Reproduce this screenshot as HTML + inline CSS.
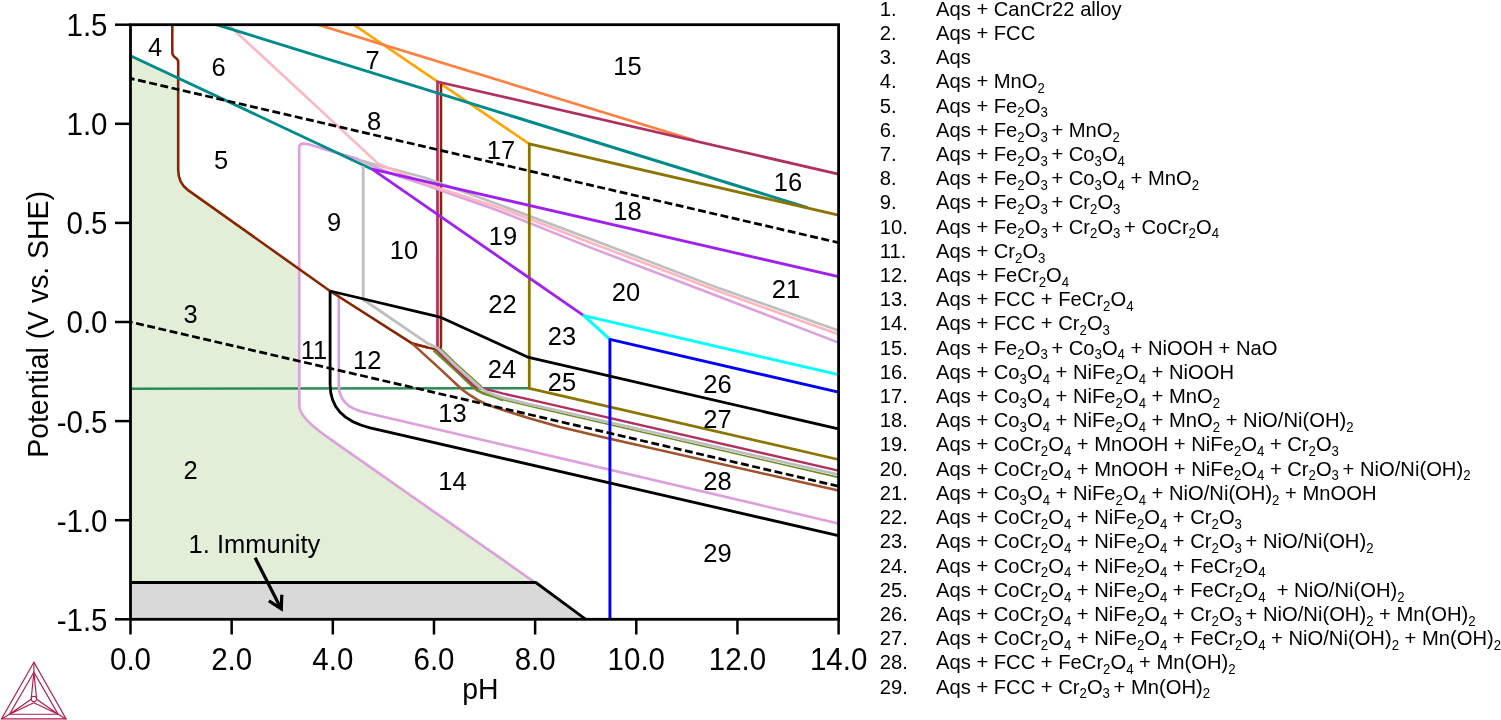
<!DOCTYPE html>
<html><head><meta charset="utf-8"><title>Pourbaix diagram</title>
<style>html,body{margin:0;padding:0;background:#fff;width:1501px;height:720px;overflow:hidden}svg{display:block}</style>
</head><body><svg width="1501" height="720" viewBox="0 0 1501 720" font-family='"Liberation Sans", sans-serif' fill="#000"><defs><clipPath id="cp"><rect x="130.5" y="24.7" width="708.1" height="594.5999999999999"/></clipPath></defs><path d="M131,56 L178.2,78 L178.2,170 Q178.2,183.1 188,190.1 L299.5,269.3 L299.3,405.9 Q299.3,417.45 329.2,438.4 L535.8,583 L131,583 Z" fill="#E2EED8"/><path d="M130.5,583 L535.8,583 L585.8,619.3 L130.5,619.3 Z" fill="#D9D9D9"/><g clip-path="url(#cp)"><path d="M131.00,388.70 L529.30,388.20" fill="none" stroke="#2E8B57" stroke-width="2.6" stroke-linejoin="round" /><path d="M353.75,24.70 L529.20,143.90" fill="none" stroke="#FFA500" stroke-width="2.6" stroke-linejoin="round" /><path d="M318.00,24.70 L695.00,140.50" fill="none" stroke="#FF7F3F" stroke-width="2.6" stroke-linejoin="round" /><path d="M838.4,174.1 L437.5,81.7 L437.5,347.2" fill="none" stroke="#B03060" stroke-width="2.7" stroke-linejoin="round" /><path d="M412,343.4 L428,347.6 L436.9,349.6 Q441,349.6 441,346 L441,83.9" fill="none" stroke="#8B2500" stroke-width="2.5" stroke-linejoin="round" /><path d="M838.4,342.6 L720,297.0 L590,247.4 L500,211.25 L425,184.7 L400,176.7 L375,167 L355,157.9 L325.3,149.4 L308.7,144.2 L303,143.6 Q299.2,143.6 299.2,148 L299.3,405.9 Q299.3,417.45 329.2,438.4 L535.8,583" fill="none" stroke="#DDA0DD" stroke-width="2.6" stroke-linejoin="round" /><path d="M338.8,293.6 L338.8,385.2 Q338.8,406.2 364.1,412.2 L838.4,523.4" fill="none" stroke="#DDA0DD" stroke-width="2.6" stroke-linejoin="round" /><path d="M172.3,24 L172.3,53 Q172.3,55 174,56.5 L176.5,58.5 Q178.2,60 178.2,62 L178.2,170 Q178.2,183.1 188,190.1 L330,291 L412,343.4 L428,347.6" fill="none" stroke="#8B2500" stroke-width="2.6" stroke-linejoin="round" /><path d="M362.50,160.80 L375.00,164.50 L400.00,171.10 L425.00,177.80 L500.00,205.00 L590.00,238.75 L720.00,288.60 L838.40,330.50" fill="none" stroke="#BEBEBE" stroke-width="2.6" stroke-linejoin="round" /><path d="M228.30,24.70 L378.30,163.90 L400.00,172.80 L425.00,183.10 L440.00,188.50 L500.00,207.90 L590.00,242.50 L720.00,291.70 L838.40,334.30" fill="none" stroke="#FFB6C1" stroke-width="2.6" stroke-linejoin="round" /><path d="M131.00,56.00 L372.10,169.20" fill="none" stroke="#008B8B" stroke-width="2.9" stroke-linejoin="round" /><path d="M214.50,24.00 L807.50,207.60" fill="none" stroke="#008B8B" stroke-width="2.9" stroke-linejoin="round" /><path d="M838.40,215.10 L529.30,143.90 L529.30,388.30 L838.40,459.50" fill="none" stroke="#8B7500" stroke-width="2.8" stroke-linejoin="round" /><path d="M412.00,343.40 L440.00,368.90 L462.00,389.50 L470.00,395.20 L478.00,400.20 L486.70,404.40 L497.80,408.30 L510.00,412.30 L530.00,418.60 L560.00,427.00 L600.00,436.50 L838.40,490.60" fill="none" stroke="#A0522D" stroke-width="2.6" stroke-linejoin="round" /><path d="M433.60,350.20 L455.00,369.80 L474.00,387.80 L478.00,390.80 L482.80,393.10 L495.00,397.00 L503.30,400.20" fill="none" stroke="#6B8E23" stroke-width="2.8" stroke-linejoin="round" /><path d="M495.00,396.80 L503.30,399.80 L530.00,406.20 L838.40,477.40" fill="none" stroke="#6B8E23" stroke-width="1.6" stroke-linejoin="round" /><path d="M441.30,349.10 L455.00,362.60 L482.00,386.80" fill="none" stroke="#6B8E23" stroke-width="1.4" stroke-linejoin="round" /><path d="M436.30,349.70 L455.00,367.60 L474.50,386.20 L478.00,387.60 L482.80,388.60 L495.00,391.40 L503.30,393.60 L530.00,399.60 L838.40,470.60" fill="none" stroke="#B03060" stroke-width="2.5" stroke-linejoin="round" /><path d="M363.20,166.00 L363.20,299.50 L428.00,343.60 L436.90,347.70 L438.60,349.10 L455.00,365.30 L471.70,380.30 L480.00,387.60 L486.70,391.90 L495.00,395.20 L503.30,397.90 L530.00,404.30 L540.00,406.50 L838.40,474.60" fill="none" stroke="#BEBEBE" stroke-width="2.8" stroke-linejoin="round" /><path d="M372.10,169.20 L838.40,276.60" fill="none" stroke="#A020F0" stroke-width="2.8" stroke-linejoin="round" /><path d="M372.10,169.20 L583.75,315.60" fill="none" stroke="#A020F0" stroke-width="2.8" stroke-linejoin="round" /><path d="M838.40,374.70 L583.75,315.60 L609.80,339.40" fill="none" stroke="#00FFFF" stroke-width="2.9" stroke-linejoin="round" /><path d="M838.40,392.20 L609.90,339.40 L609.90,619.30" fill="none" stroke="#0000FF" stroke-width="2.9" stroke-linejoin="round" /><path d="M330,291 L436,316.2 Q441,317.2 446,319.8 L528.6,357.4 L838.4,428.8" fill="none" stroke="#000000" stroke-width="2.8" stroke-linejoin="round" /><path d="M330.1,291 L330.1,384.6 Q330.1,418.6 370.1,427.8 L838.4,535.6" fill="none" stroke="#000000" stroke-width="2.8" stroke-linejoin="round" /><path d="M130.50,78.41 L838.60,242.68" fill="none" stroke="#000000" stroke-width="2.7" stroke-linejoin="round" stroke-dasharray="7.9 3.6" stroke-dashoffset="3.8"/><path d="M130.50,322.00 L838.60,486.27" fill="none" stroke="#000000" stroke-width="2.7" stroke-linejoin="round" stroke-dasharray="7.9 3.6" stroke-dashoffset="5.8"/><path d="M130.5,582.5 L535.8,582.5 L585.8,619.3" fill="none" stroke="#000000" stroke-width="2.8" stroke-linejoin="round" /></g><rect x="130.5" y="24.7" width="708.1" height="594.5999999999999" fill="none" stroke="#000" stroke-width="2.8"/><line x1="115" y1="24.70" x2="130.5" y2="24.70" stroke="#000" stroke-width="2.5"/><line x1="115" y1="123.80" x2="130.5" y2="123.80" stroke="#000" stroke-width="2.5"/><line x1="115" y1="222.90" x2="130.5" y2="222.90" stroke="#000" stroke-width="2.5"/><line x1="115" y1="322.00" x2="130.5" y2="322.00" stroke="#000" stroke-width="2.5"/><line x1="115" y1="421.10" x2="130.5" y2="421.10" stroke="#000" stroke-width="2.5"/><line x1="115" y1="520.20" x2="130.5" y2="520.20" stroke="#000" stroke-width="2.5"/><line x1="115" y1="619.30" x2="130.5" y2="619.30" stroke="#000" stroke-width="2.5"/><line x1="130.50" y1="619.3" x2="130.50" y2="634.5" stroke="#000" stroke-width="2.5"/><line x1="231.66" y1="619.3" x2="231.66" y2="634.5" stroke="#000" stroke-width="2.5"/><line x1="332.81" y1="619.3" x2="332.81" y2="634.5" stroke="#000" stroke-width="2.5"/><line x1="433.97" y1="619.3" x2="433.97" y2="634.5" stroke="#000" stroke-width="2.5"/><line x1="535.13" y1="619.3" x2="535.13" y2="634.5" stroke="#000" stroke-width="2.5"/><line x1="636.29" y1="619.3" x2="636.29" y2="634.5" stroke="#000" stroke-width="2.5"/><line x1="737.44" y1="619.3" x2="737.44" y2="634.5" stroke="#000" stroke-width="2.5"/><line x1="838.60" y1="619.3" x2="838.60" y2="634.5" stroke="#000" stroke-width="2.5"/><text transform="translate(107.50,36.10) scale(1,1.042)" font-size="29.5" text-anchor="end" >1.5</text><text transform="translate(107.50,135.20) scale(1,1.042)" font-size="29.5" text-anchor="end" >1.0</text><text transform="translate(107.50,234.30) scale(1,1.042)" font-size="29.5" text-anchor="end" >0.5</text><text transform="translate(107.50,333.40) scale(1,1.042)" font-size="29.5" text-anchor="end" >0.0</text><text transform="translate(107.50,432.50) scale(1,1.042)" font-size="29.5" text-anchor="end" >-0.5</text><text transform="translate(107.50,531.60) scale(1,1.042)" font-size="29.5" text-anchor="end" >-1.0</text><text transform="translate(107.50,630.70) scale(1,1.042)" font-size="29.5" text-anchor="end" >-1.5</text><text transform="translate(130.50,670.00) scale(1,1.042)" font-size="29.5" text-anchor="middle" >0.0</text><text transform="translate(231.66,670.00) scale(1,1.042)" font-size="29.5" text-anchor="middle" >2.0</text><text transform="translate(332.81,670.00) scale(1,1.042)" font-size="29.5" text-anchor="middle" >4.0</text><text transform="translate(433.97,670.00) scale(1,1.042)" font-size="29.5" text-anchor="middle" >6.0</text><text transform="translate(535.13,670.00) scale(1,1.042)" font-size="29.5" text-anchor="middle" >8.0</text><text transform="translate(636.29,670.00) scale(1,1.042)" font-size="29.5" text-anchor="middle" >10.0</text><text transform="translate(737.44,670.00) scale(1,1.042)" font-size="29.5" text-anchor="middle" >12.0</text><text transform="translate(838.60,670.00) scale(1,1.042)" font-size="29.5" text-anchor="middle" >14.0</text><text transform="translate(480.30,699.40) scale(1,1.042)" font-size="28.4" text-anchor="middle" >pH</text><text transform="translate(47.75,324.40) rotate(-90) scale(1,1.042)" font-size="28.4" text-anchor="middle" >Potential (V vs. SHE)</text><text transform="translate(155.00,56.00) scale(1,1.042)" font-size="25.5" text-anchor="middle" >4</text><text transform="translate(218.50,75.50) scale(1,1.042)" font-size="25.5" text-anchor="middle" >6</text><text transform="translate(221.00,169.00) scale(1,1.042)" font-size="25.5" text-anchor="middle" >5</text><text transform="translate(372.50,69.00) scale(1,1.042)" font-size="25.5" text-anchor="middle" >7</text><text transform="translate(374.00,130.00) scale(1,1.042)" font-size="25.5" text-anchor="middle" >8</text><text transform="translate(501.00,159.00) scale(1,1.042)" font-size="25.5" text-anchor="middle" >17</text><text transform="translate(627.50,75.00) scale(1,1.042)" font-size="25.5" text-anchor="middle" >15</text><text transform="translate(788.00,191.00) scale(1,1.042)" font-size="25.5" text-anchor="middle" >16</text><text transform="translate(627.50,219.50) scale(1,1.042)" font-size="25.5" text-anchor="middle" >18</text><text transform="translate(626.00,301.00) scale(1,1.042)" font-size="25.5" text-anchor="middle" >20</text><text transform="translate(786.00,298.00) scale(1,1.042)" font-size="25.5" text-anchor="middle" >21</text><text transform="translate(334.00,231.00) scale(1,1.042)" font-size="25.5" text-anchor="middle" >9</text><text transform="translate(190.50,322.50) scale(1,1.042)" font-size="25.5" text-anchor="middle" >3</text><text transform="translate(404.00,259.00) scale(1,1.042)" font-size="25.5" text-anchor="middle" >10</text><text transform="translate(503.00,245.00) scale(1,1.042)" font-size="25.5" text-anchor="middle" >19</text><text transform="translate(502.50,312.50) scale(1,1.042)" font-size="25.5" text-anchor="middle" >22</text><text transform="translate(562.00,345.00) scale(1,1.042)" font-size="25.5" text-anchor="middle" >23</text><text transform="translate(314.00,358.50) scale(1,1.042)" font-size="25.5" text-anchor="middle" >11</text><text transform="translate(367.30,369.00) scale(1,1.042)" font-size="25.5" text-anchor="middle" >12</text><text transform="translate(452.50,422.00) scale(1,1.042)" font-size="25.5" text-anchor="middle" >13</text><text transform="translate(452.50,489.50) scale(1,1.042)" font-size="25.5" text-anchor="middle" >14</text><text transform="translate(502.00,378.00) scale(1,1.042)" font-size="25.5" text-anchor="middle" >24</text><text transform="translate(562.00,390.50) scale(1,1.042)" font-size="25.5" text-anchor="middle" >25</text><text transform="translate(717.50,392.50) scale(1,1.042)" font-size="25.5" text-anchor="middle" >26</text><text transform="translate(717.50,427.50) scale(1,1.042)" font-size="25.5" text-anchor="middle" >27</text><text transform="translate(717.50,490.00) scale(1,1.042)" font-size="25.5" text-anchor="middle" >28</text><text transform="translate(717.50,562.00) scale(1,1.042)" font-size="25.5" text-anchor="middle" >29</text><text transform="translate(190.50,478.75) scale(1,1.042)" font-size="25.5" text-anchor="middle" >2</text><text transform="translate(188.60,552.50) scale(1,1.042)" font-size="25.5" >1. Immunity</text><path d="M255.1,557.8 L280.6,607.8" stroke="#000" stroke-width="3.2" fill="none"/><path d="M268.9,600.8 L281.3,608.8 L281.8,594.8" stroke="#000" stroke-width="3.2" fill="none" stroke-linejoin="miter" stroke-miterlimit="10"/><text transform="translate(879.70,15.70) scale(1,1.042)" font-size="20.2" >1.</text><text transform="translate(936.00,15.70) scale(1,1.042)" font-size="20.2" xml:space="preserve">Aqs + CanCr22 alloy</text><text transform="translate(879.70,39.91) scale(1,1.042)" font-size="20.2" >2.</text><text transform="translate(936.00,39.91) scale(1,1.042)" font-size="20.2" xml:space="preserve">Aqs + FCC</text><text transform="translate(879.70,64.12) scale(1,1.042)" font-size="20.2" >3.</text><text transform="translate(936.00,64.12) scale(1,1.042)" font-size="20.2" xml:space="preserve">Aqs</text><text transform="translate(879.70,88.33) scale(1,1.042)" font-size="20.2" >4.</text><text transform="translate(936.00,88.33) scale(1,1.042)" font-size="20.2" xml:space="preserve">Aqs + MnO<tspan font-size="13.2" dy="4.6">2</tspan></text><text transform="translate(879.70,112.54) scale(1,1.042)" font-size="20.2" >5.</text><text transform="translate(936.00,112.54) scale(1,1.042)" font-size="20.2" xml:space="preserve">Aqs + Fe<tspan font-size="13.2" dy="4.6">2</tspan><tspan dy="-4.6">O</tspan><tspan font-size="13.2" dy="4.6">3</tspan></text><text transform="translate(879.70,136.75) scale(1,1.042)" font-size="20.2" >6.</text><text transform="translate(936.00,136.75) scale(1,1.042)" font-size="20.2" xml:space="preserve">Aqs + Fe<tspan font-size="13.2" dy="4.6">2</tspan><tspan dy="-4.6">O</tspan><tspan font-size="13.2" dy="4.6">3&#160;</tspan><tspan dy="-4.6">+ MnO</tspan><tspan font-size="13.2" dy="4.6">2</tspan></text><text transform="translate(879.70,160.96) scale(1,1.042)" font-size="20.2" >7.</text><text transform="translate(936.00,160.96) scale(1,1.042)" font-size="20.2" xml:space="preserve">Aqs + Fe<tspan font-size="13.2" dy="4.6">2</tspan><tspan dy="-4.6">O</tspan><tspan font-size="13.2" dy="4.6">3&#160;</tspan><tspan dy="-4.6">+ Co</tspan><tspan font-size="13.2" dy="4.6">3</tspan><tspan dy="-4.6">O</tspan><tspan font-size="13.2" dy="4.6">4</tspan></text><text transform="translate(879.70,185.17) scale(1,1.042)" font-size="20.2" >8.</text><text transform="translate(936.00,185.17) scale(1,1.042)" font-size="20.2" xml:space="preserve">Aqs + Fe<tspan font-size="13.2" dy="4.6">2</tspan><tspan dy="-4.6">O</tspan><tspan font-size="13.2" dy="4.6">3&#160;</tspan><tspan dy="-4.6">+ Co</tspan><tspan font-size="13.2" dy="4.6">3</tspan><tspan dy="-4.6">O</tspan><tspan font-size="13.2" dy="4.6">4</tspan><tspan dy="-4.6"> + MnO</tspan><tspan font-size="13.2" dy="4.6">2</tspan></text><text transform="translate(879.70,209.38) scale(1,1.042)" font-size="20.2" >9.</text><text transform="translate(936.00,209.38) scale(1,1.042)" font-size="20.2" xml:space="preserve">Aqs + Fe<tspan font-size="13.2" dy="4.6">2</tspan><tspan dy="-4.6">O</tspan><tspan font-size="13.2" dy="4.6">3&#160;</tspan><tspan dy="-4.6">+ Cr</tspan><tspan font-size="13.2" dy="4.6">2</tspan><tspan dy="-4.6">O</tspan><tspan font-size="13.2" dy="4.6">3</tspan></text><text transform="translate(879.70,233.59) scale(1,1.042)" font-size="20.2" >10.</text><text transform="translate(936.00,233.59) scale(1,1.042)" font-size="20.2" xml:space="preserve">Aqs + Fe<tspan font-size="13.2" dy="4.6">2</tspan><tspan dy="-4.6">O</tspan><tspan font-size="13.2" dy="4.6">3&#160;</tspan><tspan dy="-4.6">+ Cr</tspan><tspan font-size="13.2" dy="4.6">2</tspan><tspan dy="-4.6">O</tspan><tspan font-size="13.2" dy="4.6">3&#160;</tspan><tspan dy="-4.6">+ CoCr</tspan><tspan font-size="13.2" dy="4.6">2</tspan><tspan dy="-4.6">O</tspan><tspan font-size="13.2" dy="4.6">4</tspan></text><text transform="translate(879.70,257.80) scale(1,1.042)" font-size="20.2" >11.</text><text transform="translate(936.00,257.80) scale(1,1.042)" font-size="20.2" xml:space="preserve">Aqs + Cr<tspan font-size="13.2" dy="4.6">2</tspan><tspan dy="-4.6">O</tspan><tspan font-size="13.2" dy="4.6">3</tspan></text><text transform="translate(879.70,282.01) scale(1,1.042)" font-size="20.2" >12.</text><text transform="translate(936.00,282.01) scale(1,1.042)" font-size="20.2" xml:space="preserve">Aqs + FeCr<tspan font-size="13.2" dy="4.6">2</tspan><tspan dy="-4.6">O</tspan><tspan font-size="13.2" dy="4.6">4</tspan></text><text transform="translate(879.70,306.22) scale(1,1.042)" font-size="20.2" >13.</text><text transform="translate(936.00,306.22) scale(1,1.042)" font-size="20.2" xml:space="preserve">Aqs + FCC + FeCr<tspan font-size="13.2" dy="4.6">2</tspan><tspan dy="-4.6">O</tspan><tspan font-size="13.2" dy="4.6">4</tspan></text><text transform="translate(879.70,330.43) scale(1,1.042)" font-size="20.2" >14.</text><text transform="translate(936.00,330.43) scale(1,1.042)" font-size="20.2" xml:space="preserve">Aqs + FCC + Cr<tspan font-size="13.2" dy="4.6">2</tspan><tspan dy="-4.6">O</tspan><tspan font-size="13.2" dy="4.6">3</tspan></text><text transform="translate(879.70,354.64) scale(1,1.042)" font-size="20.2" >15.</text><text transform="translate(936.00,354.64) scale(1,1.042)" font-size="20.2" xml:space="preserve">Aqs + Fe<tspan font-size="13.2" dy="4.6">2</tspan><tspan dy="-4.6">O</tspan><tspan font-size="13.2" dy="4.6">3&#160;</tspan><tspan dy="-4.6">+ Co</tspan><tspan font-size="13.2" dy="4.6">3</tspan><tspan dy="-4.6">O</tspan><tspan font-size="13.2" dy="4.6">4</tspan><tspan dy="-4.6"> + NiOOH + NaO</tspan></text><text transform="translate(879.70,378.85) scale(1,1.042)" font-size="20.2" >16.</text><text transform="translate(936.00,378.85) scale(1,1.042)" font-size="20.2" xml:space="preserve">Aqs + Co<tspan font-size="13.2" dy="4.6">3</tspan><tspan dy="-4.6">O</tspan><tspan font-size="13.2" dy="4.6">4</tspan><tspan dy="-4.6"> + NiFe</tspan><tspan font-size="13.2" dy="4.6">2</tspan><tspan dy="-4.6">O</tspan><tspan font-size="13.2" dy="4.6">4</tspan><tspan dy="-4.6"> + NiOOH</tspan></text><text transform="translate(879.70,403.06) scale(1,1.042)" font-size="20.2" >17.</text><text transform="translate(936.00,403.06) scale(1,1.042)" font-size="20.2" xml:space="preserve">Aqs + Co<tspan font-size="13.2" dy="4.6">3</tspan><tspan dy="-4.6">O</tspan><tspan font-size="13.2" dy="4.6">4</tspan><tspan dy="-4.6"> + NiFe</tspan><tspan font-size="13.2" dy="4.6">2</tspan><tspan dy="-4.6">O</tspan><tspan font-size="13.2" dy="4.6">4</tspan><tspan dy="-4.6"> + MnO</tspan><tspan font-size="13.2" dy="4.6">2</tspan></text><text transform="translate(879.70,427.27) scale(1,1.042)" font-size="20.2" >18.</text><text transform="translate(936.00,427.27) scale(1,1.042)" font-size="20.2" xml:space="preserve">Aqs + Co<tspan font-size="13.2" dy="4.6">3</tspan><tspan dy="-4.6">O</tspan><tspan font-size="13.2" dy="4.6">4</tspan><tspan dy="-4.6"> + NiFe</tspan><tspan font-size="13.2" dy="4.6">2</tspan><tspan dy="-4.6">O</tspan><tspan font-size="13.2" dy="4.6">4</tspan><tspan dy="-4.6"> + MnO</tspan><tspan font-size="13.2" dy="4.6">2</tspan><tspan dy="-4.6"> + NiO/Ni(OH)</tspan><tspan font-size="13.2" dy="4.6">2</tspan></text><text transform="translate(879.70,451.48) scale(1,1.042)" font-size="20.2" >19.</text><text transform="translate(936.00,451.48) scale(1,1.042)" font-size="20.2" xml:space="preserve">Aqs + CoCr<tspan font-size="13.2" dy="4.6">2</tspan><tspan dy="-4.6">O</tspan><tspan font-size="13.2" dy="4.6">4</tspan><tspan dy="-4.6"> + MnOOH + NiFe</tspan><tspan font-size="13.2" dy="4.6">2</tspan><tspan dy="-4.6">O</tspan><tspan font-size="13.2" dy="4.6">4</tspan><tspan dy="-4.6"> + Cr</tspan><tspan font-size="13.2" dy="4.6">2</tspan><tspan dy="-4.6">O</tspan><tspan font-size="13.2" dy="4.6">3</tspan></text><text transform="translate(879.70,475.69) scale(1,1.042)" font-size="20.2" >20.</text><text transform="translate(936.00,475.69) scale(1,1.042)" font-size="20.2" xml:space="preserve">Aqs + CoCr<tspan font-size="13.2" dy="4.6">2</tspan><tspan dy="-4.6">O</tspan><tspan font-size="13.2" dy="4.6">4</tspan><tspan dy="-4.6"> + MnOOH + NiFe</tspan><tspan font-size="13.2" dy="4.6">2</tspan><tspan dy="-4.6">O</tspan><tspan font-size="13.2" dy="4.6">4</tspan><tspan dy="-4.6"> + Cr</tspan><tspan font-size="13.2" dy="4.6">2</tspan><tspan dy="-4.6">O</tspan><tspan font-size="13.2" dy="4.6">3&#160;</tspan><tspan dy="-4.6">+ NiO/Ni(OH)</tspan><tspan font-size="13.2" dy="4.6">2</tspan></text><text transform="translate(879.70,499.90) scale(1,1.042)" font-size="20.2" >21.</text><text transform="translate(936.00,499.90) scale(1,1.042)" font-size="20.2" xml:space="preserve">Aqs + Co<tspan font-size="13.2" dy="4.6">3</tspan><tspan dy="-4.6">O</tspan><tspan font-size="13.2" dy="4.6">4</tspan><tspan dy="-4.6"> + NiFe</tspan><tspan font-size="13.2" dy="4.6">2</tspan><tspan dy="-4.6">O</tspan><tspan font-size="13.2" dy="4.6">4</tspan><tspan dy="-4.6"> + NiO/Ni(OH)</tspan><tspan font-size="13.2" dy="4.6">2</tspan><tspan dy="-4.6"> + MnOOH</tspan></text><text transform="translate(879.70,524.11) scale(1,1.042)" font-size="20.2" >22.</text><text transform="translate(936.00,524.11) scale(1,1.042)" font-size="20.2" xml:space="preserve">Aqs + CoCr<tspan font-size="13.2" dy="4.6">2</tspan><tspan dy="-4.6">O</tspan><tspan font-size="13.2" dy="4.6">4</tspan><tspan dy="-4.6"> + NiFe</tspan><tspan font-size="13.2" dy="4.6">2</tspan><tspan dy="-4.6">O</tspan><tspan font-size="13.2" dy="4.6">4</tspan><tspan dy="-4.6"> + Cr</tspan><tspan font-size="13.2" dy="4.6">2</tspan><tspan dy="-4.6">O</tspan><tspan font-size="13.2" dy="4.6">3</tspan></text><text transform="translate(879.70,548.32) scale(1,1.042)" font-size="20.2" >23.</text><text transform="translate(936.00,548.32) scale(1,1.042)" font-size="20.2" xml:space="preserve">Aqs + CoCr<tspan font-size="13.2" dy="4.6">2</tspan><tspan dy="-4.6">O</tspan><tspan font-size="13.2" dy="4.6">4</tspan><tspan dy="-4.6"> + NiFe</tspan><tspan font-size="13.2" dy="4.6">2</tspan><tspan dy="-4.6">O</tspan><tspan font-size="13.2" dy="4.6">4</tspan><tspan dy="-4.6"> + Cr</tspan><tspan font-size="13.2" dy="4.6">2</tspan><tspan dy="-4.6">O</tspan><tspan font-size="13.2" dy="4.6">3&#160;</tspan><tspan dy="-4.6">+ NiO/Ni(OH)</tspan><tspan font-size="13.2" dy="4.6">2</tspan></text><text transform="translate(879.70,572.53) scale(1,1.042)" font-size="20.2" >24.</text><text transform="translate(936.00,572.53) scale(1,1.042)" font-size="20.2" xml:space="preserve">Aqs + CoCr<tspan font-size="13.2" dy="4.6">2</tspan><tspan dy="-4.6">O</tspan><tspan font-size="13.2" dy="4.6">4</tspan><tspan dy="-4.6"> + NiFe</tspan><tspan font-size="13.2" dy="4.6">2</tspan><tspan dy="-4.6">O</tspan><tspan font-size="13.2" dy="4.6">4</tspan><tspan dy="-4.6"> + FeCr</tspan><tspan font-size="13.2" dy="4.6">2</tspan><tspan dy="-4.6">O</tspan><tspan font-size="13.2" dy="4.6">4</tspan></text><text transform="translate(879.70,596.74) scale(1,1.042)" font-size="20.2" >25.</text><text transform="translate(936.00,596.74) scale(1,1.042)" font-size="20.2" xml:space="preserve">Aqs + CoCr<tspan font-size="13.2" dy="4.6">2</tspan><tspan dy="-4.6">O</tspan><tspan font-size="13.2" dy="4.6">4</tspan><tspan dy="-4.6"> + NiFe</tspan><tspan font-size="13.2" dy="4.6">2</tspan><tspan dy="-4.6">O</tspan><tspan font-size="13.2" dy="4.6">4</tspan><tspan dy="-4.6"> + FeCr</tspan><tspan font-size="13.2" dy="4.6">2</tspan><tspan dy="-4.6">O</tspan><tspan font-size="13.2" dy="4.6">4</tspan><tspan dy="-4.6">  + NiO/Ni(OH)</tspan><tspan font-size="13.2" dy="4.6">2</tspan></text><text transform="translate(879.70,620.95) scale(1,1.042)" font-size="20.2" >26.</text><text transform="translate(936.00,620.95) scale(1,1.042)" font-size="20.2" xml:space="preserve">Aqs + CoCr<tspan font-size="13.2" dy="4.6">2</tspan><tspan dy="-4.6">O</tspan><tspan font-size="13.2" dy="4.6">4</tspan><tspan dy="-4.6"> + NiFe</tspan><tspan font-size="13.2" dy="4.6">2</tspan><tspan dy="-4.6">O</tspan><tspan font-size="13.2" dy="4.6">4</tspan><tspan dy="-4.6"> + Cr</tspan><tspan font-size="13.2" dy="4.6">2</tspan><tspan dy="-4.6">O</tspan><tspan font-size="13.2" dy="4.6">3&#160;</tspan><tspan dy="-4.6">+ NiO/Ni(OH)</tspan><tspan font-size="13.2" dy="4.6">2</tspan><tspan dy="-4.6"> + Mn(OH)</tspan><tspan font-size="13.2" dy="4.6">2</tspan></text><text transform="translate(879.70,645.16) scale(1,1.042)" font-size="20.2" >27.</text><text transform="translate(936.00,645.16) scale(1,1.042)" font-size="20.2" xml:space="preserve">Aqs + CoCr<tspan font-size="13.2" dy="4.6">2</tspan><tspan dy="-4.6">O</tspan><tspan font-size="13.2" dy="4.6">4</tspan><tspan dy="-4.6"> + NiFe</tspan><tspan font-size="13.2" dy="4.6">2</tspan><tspan dy="-4.6">O</tspan><tspan font-size="13.2" dy="4.6">4</tspan><tspan dy="-4.6"> + FeCr</tspan><tspan font-size="13.2" dy="4.6">2</tspan><tspan dy="-4.6">O</tspan><tspan font-size="13.2" dy="4.6">4</tspan><tspan dy="-4.6"> + NiO/Ni(OH)</tspan><tspan font-size="13.2" dy="4.6">2</tspan><tspan dy="-4.6"> + Mn(OH)</tspan><tspan font-size="13.2" dy="4.6">2</tspan></text><text transform="translate(879.70,669.37) scale(1,1.042)" font-size="20.2" >28.</text><text transform="translate(936.00,669.37) scale(1,1.042)" font-size="20.2" xml:space="preserve">Aqs + FCC + FeCr<tspan font-size="13.2" dy="4.6">2</tspan><tspan dy="-4.6">O</tspan><tspan font-size="13.2" dy="4.6">4</tspan><tspan dy="-4.6"> + Mn(OH)</tspan><tspan font-size="13.2" dy="4.6">2</tspan></text><text transform="translate(879.70,693.58) scale(1,1.042)" font-size="20.2" >29.</text><text transform="translate(936.00,693.58) scale(1,1.042)" font-size="20.2" xml:space="preserve">Aqs + FCC + Cr<tspan font-size="13.2" dy="4.6">2</tspan><tspan dy="-4.6">O</tspan><tspan font-size="13.2" dy="4.6">3&#160;</tspan><tspan dy="-4.6">+ Mn(OH)</tspan><tspan font-size="13.2" dy="4.6">2</tspan></text><g fill="none" stroke="#B3194A" stroke-width="1.15" stroke-linejoin="miter"><path d="M33.9,662.2 L1.5,718.9 L66.1,718.9 Z"/><path d="M33.9,672.2 L9.5,714.2 L58.1,714.2 Z"/><path d="M33.9,662.2 L33.9,672.2 M1.5,718.9 L9.5,714.2 M66.1,718.9 L58.1,714.2"/><path d="M33.9,672.2 L31.2,698.9 M33.9,672.2 L36.6,698.9 M9.5,714.2 L31.2,699.2 M9.5,714.2 L33.8,702.8 M58.1,714.2 L36.6,699.2 M58.1,714.2 L33.8,702.8"/><path d="M31.2,698.9 A2.7,2.7 0 1 0 36.6,698.9 A2.7,2.7 0 0 0 31.2,698.9"/></g></svg></body></html>
